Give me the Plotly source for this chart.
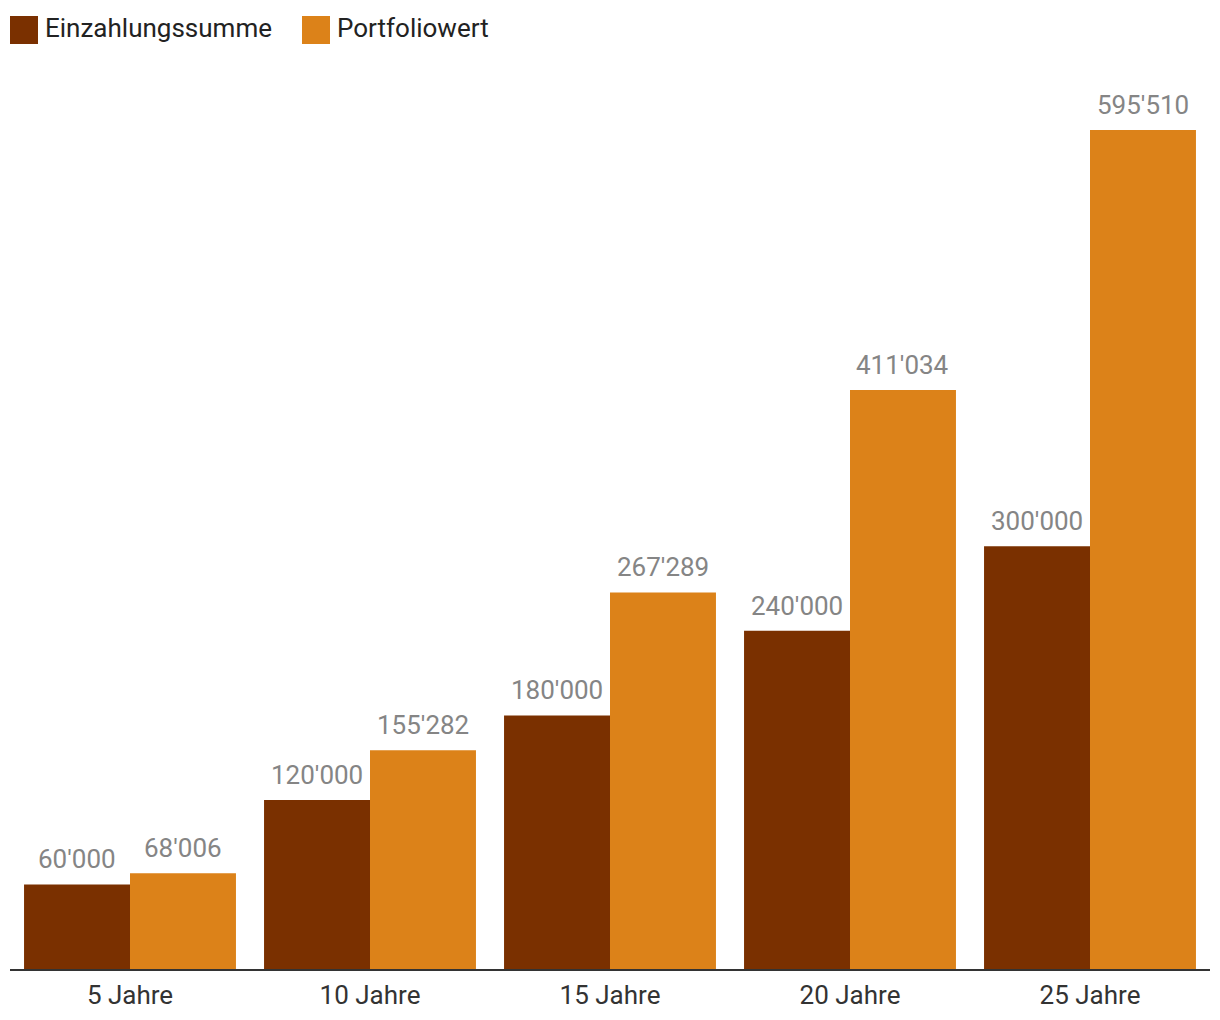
import plotly.graph_objects as go

categories = ["5 Jahre", "10 Jahre", "15 Jahre", "20 Jahre", "25 Jahre"]
einzahlung = [60000, 120000, 180000, 240000, 300000]
portfolio = [68006, 155282, 267289, 411034, 595510]
series_names = ["Einzahlungssumme", "Portfoliowert"]
colors = ["#7A3000", "#DC8219"]

def fmt(v):
    return f"{v:,}".replace(",", "'")

FONT = "Roboto"
BARGAP = 0.117
fig = go.Figure()
for name, vals, col in zip(series_names, [einzahlung, portfolio], colors):
    fig.add_trace(go.Bar(
        x=categories, y=vals, name=name, marker=dict(color=col, line=dict(width=0)),
        showlegend=False,
    ))

# value labels above bars (offset within group derived from bargap)
half = (1 - BARGAP) / 4
for s, vals in enumerate([einzahlung, portfolio]):
    off = -half if s == 0 else half
    for i, v in enumerate(vals):
        fig.add_annotation(x=i + off, y=v, xref="x", yref="y", text=fmt(v),
                           showarrow=False, yanchor="middle", yshift=25,
                           font=dict(family=FONT, size=26, color="#858585"))

W, H = 1212, 1012
ml, mr, mt, mb = 2, 10, 80, 51
pw, ph = W - ml - mr, H - mt - mb
def px(x): return (x - ml) / pw
def py(y): return (H - mb - y) / ph

# legend drawn as shapes + annotations
leg = [(2, series_names[0], colors[0]), (294, series_names[1], colors[1])]
for x0, name, col in leg:
    fig.add_shape(type="rect", xref="paper", yref="paper",
                  x0=px(x0), x1=px(x0 + 28), y0=py(36), y1=py(8),
                  fillcolor=col, line=dict(width=0))
    fig.add_annotation(xref="paper", yref="paper", x=px(x0 + 33), y=py(20),
                       text=name, showarrow=False, xanchor="left", yanchor="middle",
                       font=dict(family=FONT, size=26, color="#222222"))

fig.update_layout(
    width=W, height=H, margin=dict(l=ml, r=mr, t=mt, b=mb),
    barmode="group", bargap=BARGAP, bargroupgap=0,
    plot_bgcolor="white", paper_bgcolor="white",
    font=dict(family=FONT),
    xaxis=dict(showline=True, linecolor="#333333", linewidth=2, ticks="",
               ticklabelstandoff=2,
               tickfont=dict(family=FONT, size=26, color="#333333"), showgrid=False),
    yaxis=dict(range=[0, 625300], visible=False, showgrid=False, zeroline=False),
)
fig.write_html("out.html")
